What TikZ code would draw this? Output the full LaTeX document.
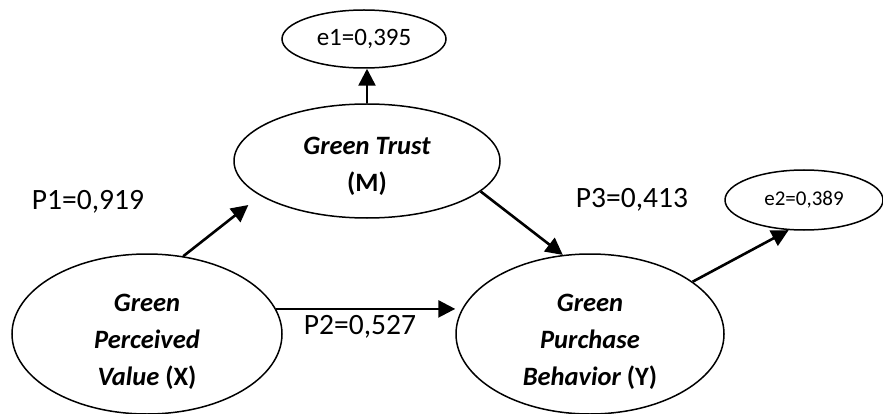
\documentclass[tikz,border=0pt]{standalone}
\usepackage{fontspec}
\setmainfont{Carlito}
\usetikzlibrary{shapes.geometric,arrows.meta}
\begin{document}
\begin{tikzpicture}[x=1pt,y=-1pt,
  latent/.style n args={2}{ellipse,draw,line width=1.5pt,inner sep=0pt,minimum width=#1,minimum height=#2},
  nametext/.style={font=\fontsize{26.5}{37}\selectfont\bfseries\itshape,align=center},
  plabel/.style={font=\fontsize{29.5}{32}\selectfont,inner sep=0pt},
  arr/.style={line width=2.6pt,-{Triangle[length=17pt,width=17pt]}}]
\useasboundingbox (0,0) rectangle (883,414);
\node[latent={270pt}{160pt}] (X) at (147,334) {};
\node[latent={268pt}{160pt}] (Y) at (590,334) {};
\node[latent={266pt}{114pt}] (M) at (367,161) {};
\node[latent={164pt}{58pt},font=\fontsize{25}{27}\selectfont] (e1) at (364,39) {e1=0,395};
\node[latent={158pt}{60pt},font=\fontsize{21}{23}\selectfont] (e2) at (804,200) {e2=0,389};
\node[nametext] (Xt) at (147,342) {Green\\Perceived\\Value {\upshape(X)}};
\node[nametext] (Yt) at (590,342) {Green\\Purchase\\Behavior {\upshape(Y)}};
\node[nametext] (Mt) at (367,166) {Green Trust\\{\upshape(M)}};
\node[plabel] (P1) at (88,202) {P1=0,919};
\node[plabel] (P2) at (360,327) {P2=0,527};
\node[plabel] (P3) at (632,200) {P3=0,413};
\draw[arr] (M.north) -- (M.north |- e1.south);
\draw[arr,shorten >=15pt] (X.65.5) -- (M.198.7);
\draw[arr] (X.11) -- (X.11 -| Y.west);
\draw[arr] (M.345.5) -- (Y.109);
\draw[arr] (Y.27.2) -- (e2.243);
\end{tikzpicture}
\end{document}
